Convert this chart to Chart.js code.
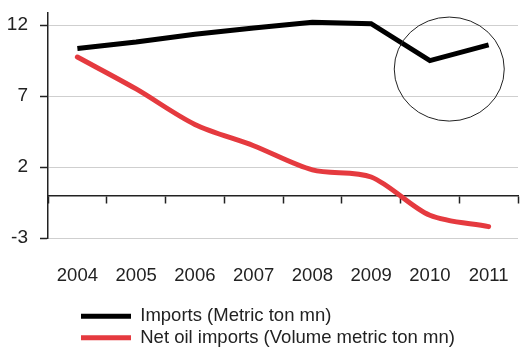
<!DOCTYPE html>
<html>
<head>
<meta charset="utf-8">
<script src="https://cdn.jsdelivr.net/npm/chart.js@4/dist/chart.umd.min.js"></script>
<style>
  html, body { margin: 0; padding: 0; background: #ffffff; }
  #wrap { width: 520px; height: 347px; position: relative; }
</style>
</head>
<body>
<div id="wrap"><canvas id="chart"></canvas></div>
<script>
// Years on the horizontal axis
const years = ['2004', '2005', '2006', '2007', '2008', '2009', '2010', '2011'];
// Imports (Metric ton mn)
const importsValues = [10.35, 10.8, 11.35, 11.8, 12.2, 12.1, 9.5, 10.6];
// Net oil imports (Volume metric ton mn)
const netOilValues = [9.75, 7.5, 5.0, 3.5, 1.8, 1.3, -1.4, -2.2];
// Value-axis ticks
const yTicks = [-3, 2, 7, 12];

// Highlight ring around the 2010-2011 drop (centre in data units, radius in px)
const ringCentre = { x: 6.33, y: 8.9 };
const ringRadius = { x: 55, y: 52 };

const FONT = "'Liberation Sans', Arial, sans-serif";

const ringPlugin = {
  id: 'ring',
  afterDatasetsDraw(chart) {
    const { ctx, scales } = chart;
    const cx = scales.x.getPixelForValue(ringCentre.x);
    const cy = scales.y.getPixelForValue(ringCentre.y);
    ctx.save();
    ctx.beginPath();
    ctx.ellipse(cx, cy, ringRadius.x, ringRadius.y, 0, 0, Math.PI * 2);
    ctx.lineWidth = 1;
    ctx.strokeStyle = '#222';
    ctx.stroke();
    ctx.restore();
  }
};

// Legend rows sit left-aligned under the axis labels
const legendPlacer = {
  id: 'legendPlacer',
  afterLayout(chart) {
    const lg = chart.legend;
    if (!lg) return;
    const shiftX = 78 - lg.left;
    const shiftY = 304 - lg.top;
    lg.left += shiftX; lg.right += shiftX;
    lg.top += shiftY; lg.bottom += shiftY;
  }
};

// Axis labels never push the plot area inwards
function noLabelPadding(s) {
  s.paddingTop = 0; s.paddingBottom = 0;
  s.paddingLeft = 0; s.paddingRight = 0;
}

new Chart(document.getElementById('chart'), {
  type: 'line',
  data: {
    labels: years,
    datasets: [
      {
        label: 'Imports (Metric ton mn)',
        data: importsValues,
        borderColor: '#000000',
        backgroundColor: '#000000',
        borderWidth: 5,
        pointRadius: 0,
        tension: 0,
        borderCapStyle: 'butt'
      },
      {
        label: 'Net oil imports (Volume metric ton mn)',
        data: netOilValues,
        borderColor: '#e53a3f',
        backgroundColor: '#e53a3f',
        borderWidth: 5,
        pointRadius: 0,
        tension: 0.3,
        borderCapStyle: 'round'
      }
    ]
  },
  options: {
    responsive: true,
    maintainAspectRatio: false,
    animation: false,
    layout: { padding: { top: 13, right: 2, left: 0, bottom: 0 } },
    plugins: {
      tooltip: { enabled: false },
      legend: {
        position: 'bottom',
        align: 'start',
        labels: {
          boxWidth: 50,
          boxHeight: 5,
          padding: 3,
          color: '#222',
          font: { family: FONT, size: 18.5 },
          generateLabels(chart) {
            return chart.data.datasets.map((ds, i) => ({
              text: ds.label,
              fillStyle: ds.borderColor,
              strokeStyle: ds.borderColor,
              lineWidth: 0,
              fontColor: '#222',
              datasetIndex: i,
              hidden: false
            }));
          }
        }
      }
    },
    scales: {
      x: {
        type: 'category',
        offset: true,
        grid: {
          display: true,
          drawOnChartArea: false,
          drawTicks: true,
          tickLength: 27,
          tickColor: 'rgba(0,0,0,0)'
        },
        border: { display: false },
        ticks: {
          padding: 0,
          color: '#222',
          font: { family: FONT, size: 18.5 },
          maxRotation: 0
        },
        afterFit(s) { s.height = 56; noLabelPadding(s); }
      },
      x2: {
        type: 'category',
        position: { y: 0 },
        offset: true,
        grid: {
          offset: true,
          drawOnChartArea: false,
          drawTicks: true,
          tickLength: 7,
          tickColor: '#222',
          tickWidth: 1.5
        },
        border: { display: true, color: '#222', width: 1.5 },
        ticks: { display: false },
        afterFit: noLabelPadding
      },
      y: {
        min: -3,
        max: 12.85,
        afterBuildTicks(s) { s.ticks = yTicks.map(v => ({ value: v })); },
        afterFit(s) { s.width = 48; noLabelPadding(s); },
        grid: {
          color: '#cfcfcf',
          lineWidth: 1,
          tickColor: '#222',
          tickLength: 8,
          tickWidth: 1.5
        },
        border: { display: true, color: '#222', width: 1.5 },
        ticks: {
          padding: 12,
          color: '#222',
          font: { family: FONT, size: 19 }
        }
      }
    }
  },
  plugins: [ringPlugin, legendPlacer]
});
</script>
</body>
</html>
